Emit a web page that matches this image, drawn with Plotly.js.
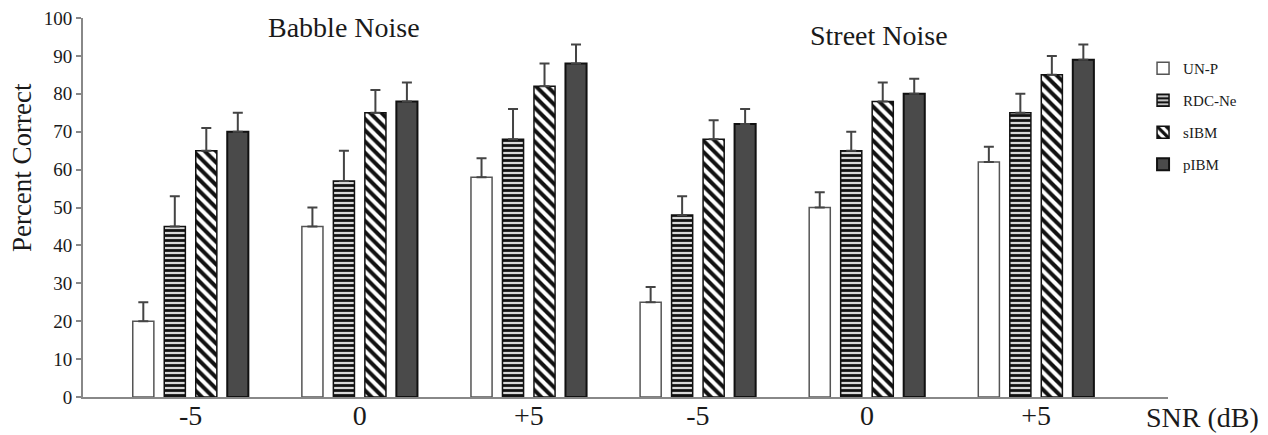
<!DOCTYPE html>
<html><head><meta charset="utf-8">
<script src="https://cdn.plot.ly/plotly-3.0.1.min.js"></script>
<style>html,body{margin:0;padding:0;background:#fff}#chart{width:1268px;height:435px}</style>
</head><body><div id="chart"></div>
<script>
// Group positions (6 groups) and their tick labels
const groupIndex = [0, 1, 2, 3, 4, 5];
const tickLabels = ['-5', '0', '+5', '-5', '0', '+5'];
const seriesNames = ['UN-P', 'RDC-Ne', 'sIBM', 'pIBM'];

// Percent correct means
const unp   = [20, 45, 58, 25, 50, 62];
const rdcne = [45, 57, 68, 48, 65, 75];
const sibm  = [65, 75, 82, 68, 78, 85];
const pibm  = [70, 78, 88, 72, 80, 89];

// Upward error bars
const unpErr   = [5, 5, 5, 4, 4, 4];
const rdcneErr = [8, 8, 8, 5, 5, 5];
const sibmErr  = [6, 6, 6, 5, 5, 5];
const pibmErr  = [5, 5, 5, 4, 4, 4];

const serif = 'Liberation Serif, Times New Roman, serif';
const txt = '#1a1a1a';
const zeros = groupIndex.map(() => 0);

function errY(arr) {
  return {type: 'data', symmetric: false, array: arr, arrayminus: zeros,
          color: '#444', thickness: 2, width: 5};
}

const traces = [
  {name: seriesNames[0], y: unp, error_y: errY(unpErr),
   marker: {color: '#ffffff', line: {color: '#555', width: 1.5}}},
  {name: seriesNames[1], y: rdcne, error_y: errY(rdcneErr),
   marker: {color: '#d8d8d8', line: {color: '#111', width: 1.5},
            pattern: {shape: '-', fgcolor: '#111', bgcolor: '#d8d8d8', size: 5, solidity: 0.55}}},
  {name: seriesNames[2], y: sibm, error_y: errY(sibmErr),
   marker: {color: '#ffffff', line: {color: '#111', width: 1.5},
            pattern: {shape: '\\', fgcolor: '#111', bgcolor: '#ffffff', size: 8, solidity: 0.5}}},
  {name: seriesNames[3], y: pibm, error_y: errY(pibmErr),
   marker: {color: '#4a4a4a', line: {color: '#111', width: 2}}}
].map((t, i) => Object.assign({type: 'bar', x: groupIndex, legendgroup: 'g' + i}, t));

const layout = {
  width: 1268, height: 435,
  margin: {l: 83, r: 100, t: 18, b: 38, autoexpand: false},
  paper_bgcolor: '#fff', plot_bgcolor: '#fff',
  barmode: 'group', bargap: 0.255, bargroupgap: 0.33,
  font: {family: serif, color: txt},
  showlegend: true,
  legend: {x: 0.977, xanchor: 'left', y: 0.91, yanchor: 'top',
           font: {family: serif, size: 15, color: txt},
           tracegroupgap: 9.5, bgcolor: 'rgba(0,0,0,0)', itemwidth: 30},
  xaxis: {range: [-0.636, 5.78], tickvals: groupIndex, ticktext: tickLabels,
          showgrid: false, zeroline: false, showline: true, linecolor: '#888', linewidth: 2,
          ticks: '', tickfont: {family: serif, size: 28, color: txt}, ticklabelstandoff: -8,
          fixedrange: true},
  yaxis: {range: [0, 100], dtick: 10, tick0: 0, showgrid: false, zeroline: false,
          showline: true, linecolor: '#888', linewidth: 2, ticks: 'outside', ticklen: 5,
          tickcolor: '#888', tickwidth: 2,
          tickfont: {family: serif, size: 19, color: txt}},
  annotations: [
    {text: 'Percent Correct', xref: 'paper', yref: 'paper', x: -0.0562, y: 0.604,
     xanchor: 'center', yanchor: 'middle', textangle: -90,
     showarrow: false, font: {family: serif, size: 27, color: txt}},
    {text: 'Babble Noise', xref: 'paper', yref: 'paper', x: 0.2406, y: 0.976,
     xanchor: 'center', yanchor: 'middle',
     showarrow: false, font: {family: serif, size: 28, color: txt}},
    {text: 'Street Noise', xref: 'paper', yref: 'paper', x: 0.7336, y: 0.955,
     xanchor: 'center', yanchor: 'middle',
     showarrow: false, font: {family: serif, size: 28, color: txt}},
    {text: 'SNR (dB)', xref: 'paper', yref: 'paper', x: 1.032, y: -0.055,
     xanchor: 'center', yanchor: 'middle',
     showarrow: false, font: {family: serif, size: 28, color: txt}}
  ]
};

Plotly.newPlot('chart', traces, layout, {displayModeBar: false, staticPlot: true});
</script></body></html>
